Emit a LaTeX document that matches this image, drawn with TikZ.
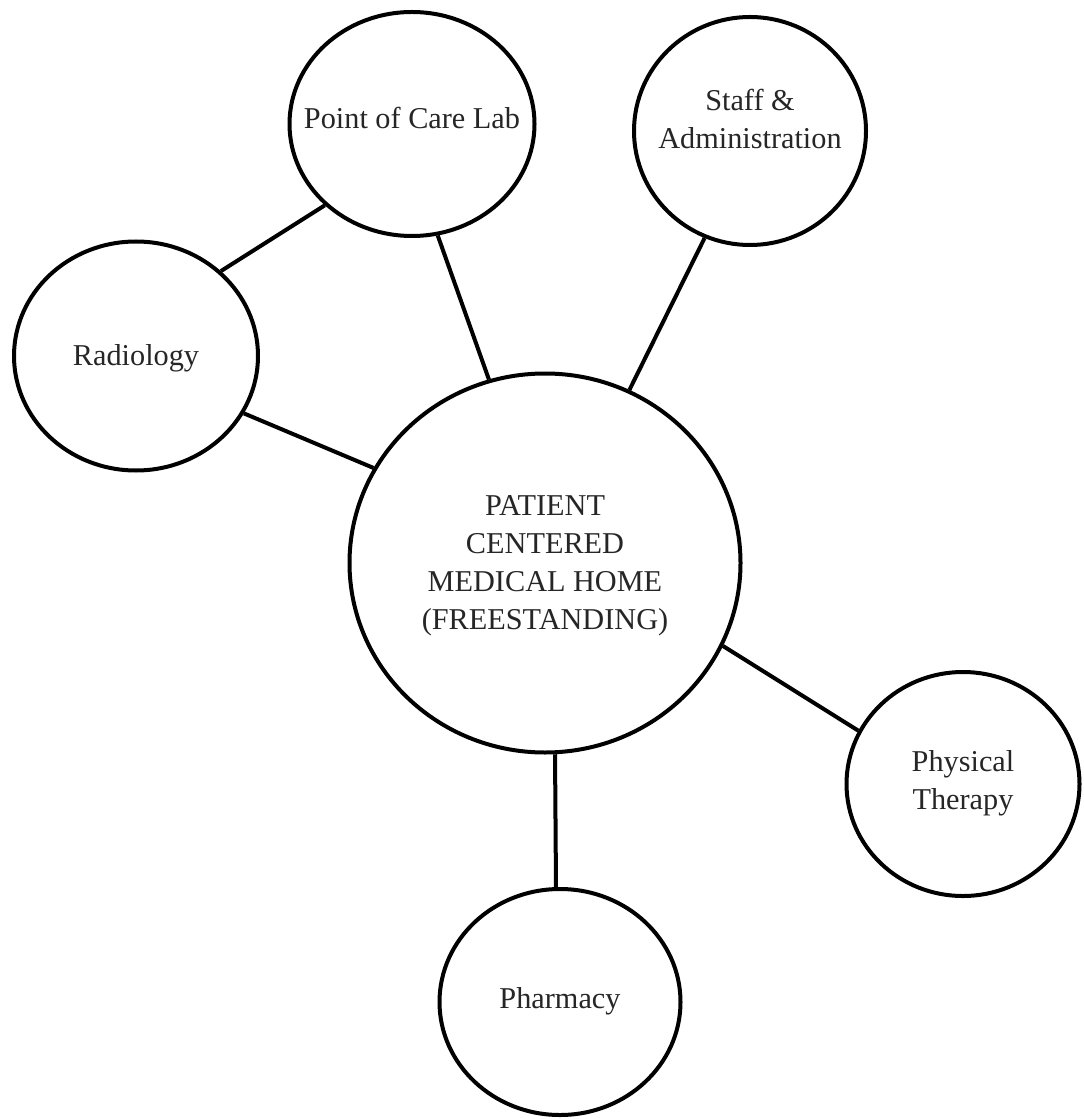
\documentclass[tikz,border=0pt]{standalone}
\usepackage{fontspec}
\setmainfont{Liberation Serif}
\usetikzlibrary{shapes.geometric}
\begin{document}
\begin{tikzpicture}[x=0.75pt,y=-0.75pt,
  bubble/.style={draw=black, line width=3pt, ellipse, inner sep=0pt, fill=white},
  lbl/.style={font=\fontsize{22.7}{28.5}\selectfont, align=center, inner sep=0pt, text=black!85},
  link/.style={draw=black, line width=3pt}]
\useasboundingbox[fill=white] (0,0) rectangle (1083,1119);
\node[bubble, minimum width=293.25pt, minimum height=284.25pt] (c) at (545,563) {};
\node[bubble, minimum width=183.75pt, minimum height=168pt] (poc) at (412,124) {};
\node[bubble, minimum width=174pt, minimum height=171pt] (sa) at (750,131) {};
\node[bubble, minimum width=183pt, minimum height=171.75pt] (rad) at (136,356) {};
\node[bubble, minimum width=174.75pt, minimum height=168pt] (pt) at (963,784) {};
\node[bubble, minimum width=180.75pt, minimum height=169.5pt] (ph) at (560,1002) {};
\draw[link] (rad.45) -- (poc.223);
\draw[link] (poc.283.6) -- (c.107.3);
\draw[link] (sa.247.6) -- (c.64.2);
\draw[link] (rad.332.8) -- (c.151.7);
\draw[link] (c.-25.8) -- (pt.153.4);
\draw[link] (c.-87) -- (ph.92.5);
\node[lbl] (cT) at (545,566) {PATIENT\\CENTERED\\MEDICAL HOME\\(FREESTANDING)};
\node[lbl] (pocT) at (412,118) {Point of Care Lab};
\node[lbl] (saT) at (750,119) {Staff \&\\Administration};
\node[lbl] (radT) at (136,358) {Radiology};
\node[lbl] (ptT) at (963,783) {Physical\\Therapy};
\node[lbl] (phT) at (560,1001) {Pharmacy};
\end{tikzpicture}
\end{document}
